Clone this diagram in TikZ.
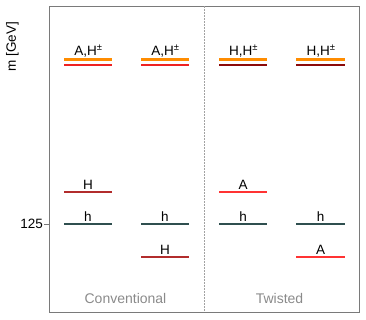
\documentclass[tikz,border=0pt]{standalone}
\usepackage{fontspec}
\setmainfont{Liberation Sans}
\definecolor{lvorange}{HTML}{FF8C00}
\definecolor{lvred}{HTML}{EE2222}
\definecolor{lvdarkred}{HTML}{8B0A0A}
\definecolor{lvfire}{HTML}{B22C2C}
\definecolor{lvbright}{HTML}{FF3333}
\definecolor{lvteal}{HTML}{2F4F4F}
\definecolor{framegray}{HTML}{7A7A7A}
\definecolor{textgray}{HTML}{8A8A8A}
\begin{document}
\begin{tikzpicture}[x=1pt,y=-1pt,
  lvl/.style={line width=1.5pt},
  thicklvl/.style={line width=2.4pt},
  lab/.style={anchor=base, inner sep=0pt, font=\fontsize{13.5}{15}\selectfont},
  grp/.style={anchor=base, inner sep=0pt, text=textgray, font=\fontsize{14}{16}\selectfont},
  axl/.style={inner sep=0pt, font=\fontsize{13.5}{15}\selectfont}]
\useasboundingbox (0,0) rectangle (366,319);
% frame
\draw[framegray, line width=0.8pt] (49,6) rectangle (359,312);
\coordinate (dtop) at (204,6);
\coordinate (dbot) at (204,312);
\draw[framegray!70, line width=0.5pt, dash pattern=on 1.5pt off 1.5pt] (dtop) -- (dbot);
% axis
\coordinate (tickA) at (44,224);
\coordinate (tickB) at (49,224);
\draw[framegray, line width=0.8pt] (tickA) -- (tickB);
\node[axl, anchor=east] (t125) at (43,224) {125};
\node[axl, rotate=90] (ylab) at (12.5,46.5) {m [GeV]};
% column 1 (conventional)
\draw[lvred, lvl] (64,65) -- (112,65);
\draw[lvorange, thicklvl] (64,59.5) -- (112,59.5);
\node[lab] (c1top) at (88.5,55.5) {A,H\textsuperscript{±}};
\draw[lvfire, lvl] (64,192) -- (112,192);
\node[lab] (c1H) at (88,189) {H};
\draw[lvteal, lvl] (64,224) -- (112,224);
\node[lab] (c1h) at (88,221.3) {h};
% column 2
\draw[lvred, lvl] (141,65) -- (189,65);
\draw[lvorange, thicklvl] (141,59.5) -- (189,59.5);
\node[lab] (c2top) at (165.5,55.5) {A,H\textsuperscript{±}};
\draw[lvteal, lvl] (141,224) -- (189,224);
\node[lab] (c2h) at (165,221.3) {h};
\draw[lvfire, lvl] (141,257) -- (189,257);
\node[lab] (c2H) at (165,254) {H};
% column 3 (twisted)
\draw[lvdarkred, lvl] (219,65) -- (267,65);
\draw[lvorange, thicklvl] (219,59.5) -- (267,59.5);
\node[lab] (c3top) at (243.5,55.5) {H,H\textsuperscript{±}};
\draw[lvbright, lvl] (219,192) -- (267,192);
\node[lab] (c3A) at (243,189) {A};
\draw[lvteal, lvl] (219,224) -- (267,224);
\node[lab] (c3h) at (243,221.3) {h};
% column 4
\draw[lvdarkred, lvl] (296,65) -- (345,65);
\draw[lvorange, thicklvl] (296,59.5) -- (345,59.5);
\node[lab] (c4top) at (321,55.5) {H,H\textsuperscript{±}};
\draw[lvteal, lvl] (296,224) -- (345,224);
\node[lab] (c4h) at (320.5,221.3) {h};
\draw[lvbright, lvl] (296,257) -- (345,257);
\node[lab] (c4A) at (320.5,254) {A};
% group labels
\node[grp] (gconv) at (125.5,303) {Conventional};
\node[grp] (gtw) at (279.5,303) {Twisted};
\end{tikzpicture}
\end{document}
